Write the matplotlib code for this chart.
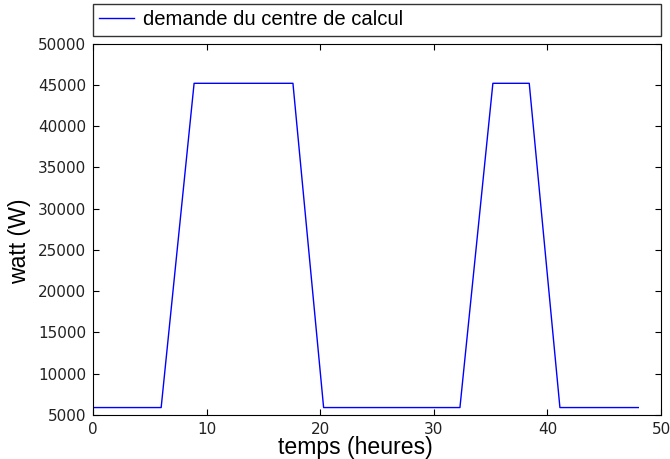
import matplotlib
matplotlib.use("Agg")
import matplotlib.pyplot as plt

hours = [0, 6, 8.9, 17.6, 20.3, 32.3, 35.2, 38.4, 41.1, 48]
watts = [5900, 5900, 45200, 45200, 5900, 5900, 45200, 45200, 5900, 5900]
series_label = "demande du centre de calcul"
x_ticks = [0, 10, 20, 30, 40, 50]
y_ticks = [5000, 10000, 15000, 20000, 25000, 30000, 35000, 40000, 45000, 50000]

fig = plt.figure(figsize=(6.7, 4.59), dpi=100)
ax = fig.add_axes([0.1388, 0.0959, 0.8478, 0.8089])
ax.plot(hours, watts, color="blue", linewidth=1.0, label=series_label)
ax.set_xlim(0, 50)
ax.set_ylim(5000, 50000)
ax.set_xticks(x_ticks)
ax.set_yticks(y_ticks)
ax.tick_params(direction="in", top=True, right=True, labelsize=11, length=4, pad=5)
for lab in ax.get_xticklabels() + ax.get_yticklabels():
    lab.set_color("#222222")
ax.set_xlabel("temps (heures)", fontsize=16.6, family="Liberation Sans", labelpad=-1)
ax.set_ylabel("watt (W)", fontsize=16.6, family="Liberation Sans", labelpad=5)
ax.xaxis.label.set_x(0.462)
ax.yaxis.label.set_y(0.467)
leg = ax.legend(bbox_to_anchor=(0, 1.022, 1, 0.098), loc="lower left", mode="expand",
                borderaxespad=0, fancybox=False, prop={"family": "Liberation Sans", "size": 14.6},
                handlelength=1.7, handletextpad=0.45, borderpad=0.3)
leg.get_frame().set_edgecolor("black")
fig.savefig("out.png", dpi=100)
